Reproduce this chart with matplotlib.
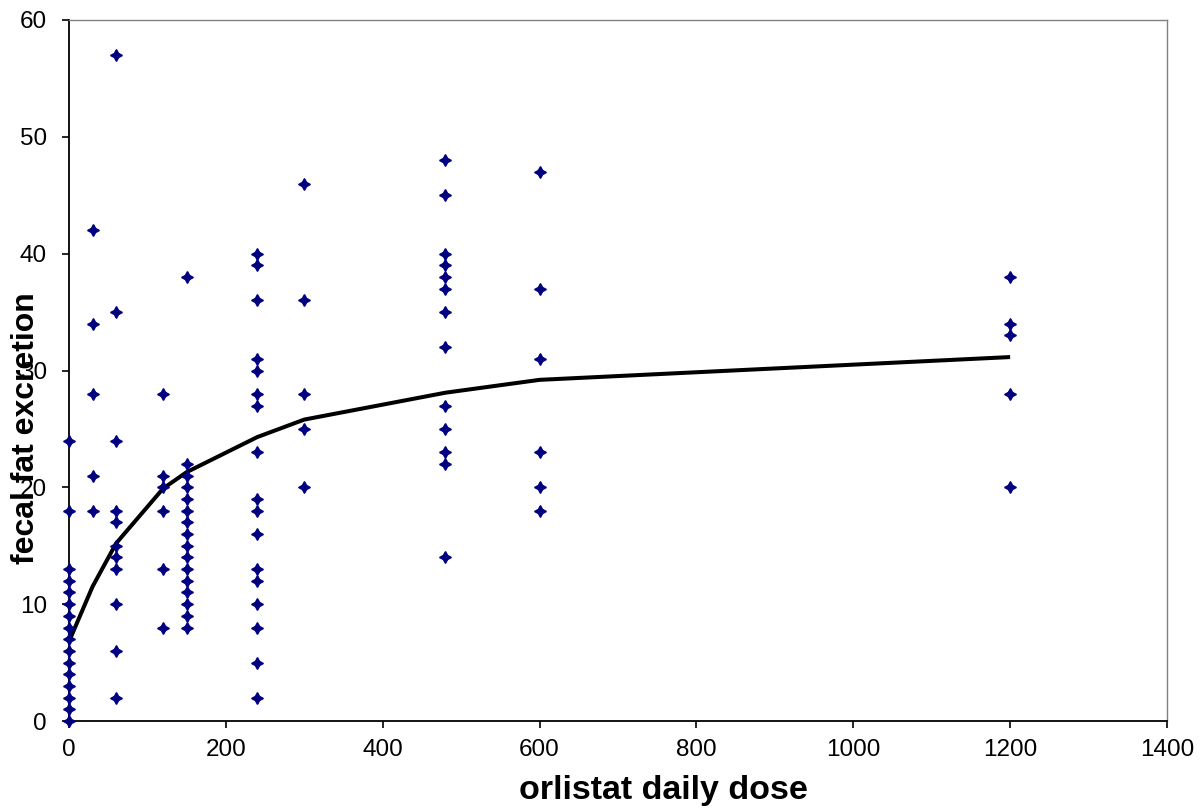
import matplotlib
matplotlib.use("Agg")
import matplotlib.pyplot as plt

plt.rcParams['font.family'] = ['Liberation Sans', 'DejaVu Sans']

# Observed fecal fat excretion per orlistat daily dose group
obs_doses = [0, 30, 60, 120, 150, 240, 300, 480, 600, 1200]
obs_values = [
    [24, 18, 13, 12, 11, 10, 9, 8, 7, 6, 5, 4, 3, 2, 1, 0],
    [42, 34, 28, 21, 18],
    [57, 35, 24, 18, 17, 15, 14, 13, 10, 6, 2],
    [28, 21, 20, 18, 13, 8],
    [38, 22, 21, 20, 19, 18, 17, 16, 15, 14, 13, 12, 11, 10, 9, 8],
    [40, 39, 36, 31, 30, 28, 27, 23, 19, 18, 16, 13, 12, 10, 8, 5, 2],
    [46, 36, 28, 25, 20],
    [48, 45, 40, 39, 38, 37, 35, 32, 27, 25, 23, 22, 14],
    [47, 37, 31, 23, 20, 18],
    [38, 34, 33, 28, 20],
]

# Fitted dose-response curve
fit_doses = [0, 30, 60, 120, 150, 240, 300, 480, 600, 1200]
fit_values = [6.8, 11.5, 15.2, 19.9, 21.3, 24.3, 25.8, 28.1, 29.2, 31.15]

xticks = [0, 200, 400, 600, 800, 1000, 1200, 1400]
yticks = [0, 10, 20, 30, 40, 50, 60]

fig = plt.figure(figsize=(12.02, 8.09), dpi=100)
ax = fig.add_axes([69 / 1202, 88 / 809, 1098 / 1202, 701 / 809])

xs, ys = [], []
for d, vals in zip(obs_doses, obs_values):
    xs.extend([d] * len(vals))
    ys.extend(vals)

ax.plot(xs, ys, linestyle='none', marker=(4, 1, 0), markersize=8.5,
        color='#000080', markeredgewidth=1.0, zorder=3, clip_on=False)
ax.plot(fit_doses, fit_values, color='black', linewidth=2.9, zorder=2,
        solid_capstyle='butt')

ax.set_xlim(0, 1400)
ax.set_ylim(0, 60)
ax.set_xticks(xticks)
ax.set_yticks(yticks)
ax.set_xticklabels([str(t) for t in xticks])
ax.set_yticklabels([str(t) for t in yticks])

for side in ('left', 'bottom'):
    ax.spines[side].set_color('black')
    ax.spines[side].set_linewidth(1.3)
for side in ('top', 'right'):
    ax.spines[side].set_color('#808080')
    ax.spines[side].set_linewidth(1.0)

ax.tick_params(axis='y', direction='out', length=5, width=1.2, pad=11,
               labelsize=17.5, colors='black')
ax.tick_params(axis='x', direction='out', length=5, width=1.2, pad=8,
               labelsize=17.5, colors='black')

fig.text(663 / 1202, 1 - 791 / 809, 'orlistat daily dose', ha='center',
         va='center', fontsize=24.5, fontweight='bold')
fig.text(26 / 1202, 1 - 428 / 809, 'fecal fat excretion', ha='center',
         va='center', rotation=90, fontsize=23, fontweight='bold')

fig.savefig('out.png', dpi=100, facecolor='white')
